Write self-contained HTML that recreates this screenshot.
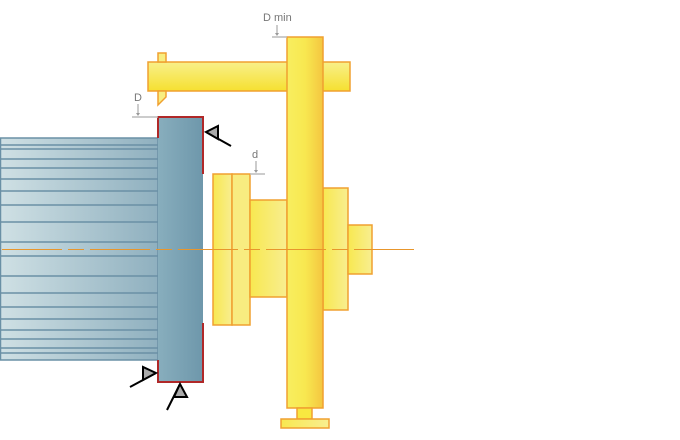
<!DOCTYPE html>
<html><head><meta charset="utf-8"><style>html,body{margin:0;padding:0;background:#fff;width:680px;height:440px;overflow:hidden}</style></head>
<body>
<svg width="680" height="440" viewBox="0 0 680 440" xmlns="http://www.w3.org/2000/svg" font-family="Liberation Sans, DejaVu Sans, sans-serif">
<defs>
<linearGradient id="mot" x1="0" x2="1" y1="0" y2="0"><stop offset="0" stop-color="#cfe0e4"/><stop offset="1" stop-color="#8fb0bf"/></linearGradient>
<linearGradient id="fl" x1="0" x2="1"><stop offset="0" stop-color="#88aebd"/><stop offset="1" stop-color="#6e97ab"/></linearGradient>
<linearGradient id="yv" x1="0" x2="1"><stop offset="0" stop-color="#f8ee60"/><stop offset="0.5" stop-color="#f8e850"/><stop offset="1" stop-color="#f4c640"/></linearGradient>
<linearGradient id="yh" x1="0" x2="0" y1="0" y2="1"><stop offset="0" stop-color="#f8f08a"/><stop offset="1" stop-color="#f6e030"/></linearGradient>
<linearGradient id="yl" x1="0" x2="1"><stop offset="0" stop-color="#f8e850"/><stop offset="1" stop-color="#f8ee90"/></linearGradient>
</defs>
<!-- motor -->
<rect x="0.5" y="138" width="157.5" height="222" fill="url(#mot)" stroke="#6a90a5" stroke-width="1.5"/>
<g stroke="#6a90a5" stroke-width="1.5">
<line x1="0" y1="145" x2="158" y2="145"/><line x1="0" y1="149" x2="158" y2="149"/><line x1="0" y1="159" x2="158" y2="159"/><line x1="0" y1="168" x2="158" y2="168"/><line x1="0" y1="179" x2="158" y2="179"/><line x1="0" y1="191" x2="158" y2="191"/><line x1="0" y1="205" x2="158" y2="205"/><line x1="0" y1="222" x2="158" y2="222"/><line x1="0" y1="242" x2="158" y2="242"/><line x1="0" y1="256" x2="158" y2="256"/><line x1="0" y1="276" x2="158" y2="276"/><line x1="0" y1="293" x2="158" y2="293"/><line x1="0" y1="307" x2="158" y2="307"/><line x1="0" y1="319" x2="158" y2="319"/><line x1="0" y1="330" x2="158" y2="330"/><line x1="0" y1="339" x2="158" y2="339"/><line x1="0" y1="348" x2="158" y2="348"/><line x1="0" y1="353" x2="158" y2="353"/>
</g>
<!-- flange -->
<rect x="158" y="117" width="45" height="265" fill="url(#fl)"/>
<polyline points="158,138 158,117 203,117 203,174" fill="none" stroke="#b02828" stroke-width="2"/>
<polyline points="203,323 203,382 158,382 158,360" fill="none" stroke="#b02828" stroke-width="2"/>
<!-- pump parts -->
<g stroke="#f0a030" stroke-width="1.5">
<rect x="213" y="174" width="19" height="151" fill="url(#yl)"/>
<rect x="232" y="174" width="18" height="151" fill="#f8ec80"/>
<rect x="250" y="200" width="37" height="97" fill="url(#yl)"/>
<rect x="323" y="188" width="25" height="122" fill="url(#yl)"/>
<rect x="348" y="225" width="24" height="49" fill="url(#yl)"/>
<rect x="148" y="62" width="202" height="29" fill="url(#yh)"/>
<path d="M158,53 H166 V62 H158 Z" fill="#f8ee80"/>
<path d="M158,91 H166 V97 L158,105 Z" fill="#f8ee80"/>
<rect x="287" y="37" width="36" height="371" fill="url(#yv)"/>
<rect x="297" y="408" width="15" height="11" fill="#f8e840"/>
<rect x="281" y="419" width="48" height="9" fill="url(#yl)"/>
</g>
<!-- centerline -->
<line x1="2" y1="249.5" x2="416" y2="249.5" stroke="#e8962c" stroke-width="1" stroke-dasharray="60,6,16,6"/>
<!-- dimensions -->
<g fill="#777" font-size="11">
<text x="263" y="21">D min</text><text x="134" y="101">D</text><text x="252" y="158">d</text>
</g>
<g stroke="#bbb" stroke-width="1.5"><line x1="272" y1="37" x2="287" y2="37"/><line x1="132" y1="117" x2="158" y2="117"/><line x1="250" y1="174" x2="265" y2="174"/></g>
<g stroke="#999" stroke-width="1"><line x1="277" y1="25" x2="277" y2="34"/><line x1="138" y1="104" x2="138" y2="114"/><line x1="256" y1="161" x2="256" y2="171"/></g>
<g fill="#999"><path d="M275,33 L279,33 L277,36Z"/><path d="M136,113 L140,113 L138,116Z"/><path d="M254,170 L258,170 L256,173Z"/></g>
<!-- weld symbols -->
<g stroke="#000" stroke-width="2" fill="#aaa" stroke-linejoin="miter">
<line x1="206" y1="132" x2="231" y2="146"/><path d="M206,132 L218,126 L218,139 Z"/>
<line x1="130" y1="387" x2="156" y2="373"/><path d="M156,373 L143,367 L143,380 Z"/>
<line x1="167" y1="410" x2="180" y2="384"/><path d="M180,384 L174,397 L187,397 Z"/>
</g>
</svg>
</body></html>
